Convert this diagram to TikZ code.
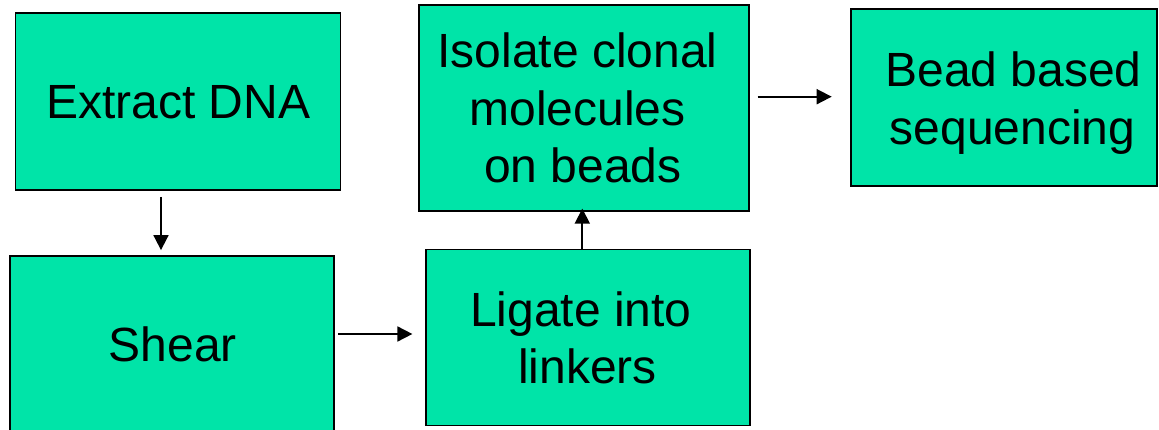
\documentclass[tikz,border=0pt]{standalone}
\usepackage{fontspec}
\setmainfont{Liberation Sans}
\usetikzlibrary{arrows.meta}
\definecolor{boxfill}{HTML}{00E4A8}
\tikzset{
  box/.style={draw=black, fill=boxfill, line width=1.8pt, inner sep=0pt},
  txt/.style={inner sep=0pt, align=center, font=\fontsize{48}{57.5}\selectfont, text=black},
  arr/.style={line width=1.8pt, -{Triangle[length=15pt,width=15pt]}}
}
\begin{document}
\begin{tikzpicture}[x=1pt,y=-1pt]
\useasboundingbox (0,0) rectangle (1159,430);
\fill[white] (0,0) rectangle (1159,430);
% boxes
\node[box, minimum width=325pt, minimum height=177pt] (b1) at (178,101.5) {};
\node[box, minimum width=324pt, minimum height=177pt] (b2) at (172,344.5) {};
\node[box, minimum width=324pt, minimum height=176pt] (b3) at (587.7,337.5) {};
\node[box, minimum width=330pt, minimum height=206pt] (b4) at (584,108) {};
\node[box, minimum width=306pt, minimum height=177pt] (b5) at (1004,97.3) {};
% texts
\node[txt] (t1) at (178.3,102) {Extract DNA};
\node[txt] (t2) at (172.8,344.7) {Shear};
\node[txt] (t3) at (581,338) {Ligate into\\\hspace*{13pt}linkers};
\node[txt] (t4) at (577.5,108) {Isolate clonal\\molecules\\\hspace*{11pt}on beads};
\node[txt] (t5) at (1013.5,103.3) {Bead based\\\hspace*{-2pt}sequencing};
% arrows
\draw[arr] ([xshift=-17pt,yshift=-6pt]b1.south) -- ([xshift=-11pt,yshift=5pt]b2.north);
\draw[arr] ([xshift=3.4pt,yshift=10.5pt]b2.east) -- ([xshift=-12.4pt,yshift=3.5pt]b3.west);
\draw[arr] ([xshift=-5.4pt]b3.north) -- ([xshift=-1.7pt,yshift=3.3pt]b4.south);
\draw[arr] ([xshift=7.7pt,yshift=11.3pt]b4.east) -- ([xshift=-18.4pt,yshift=0.6pt]b5.west);
\end{tikzpicture}
\end{document}
